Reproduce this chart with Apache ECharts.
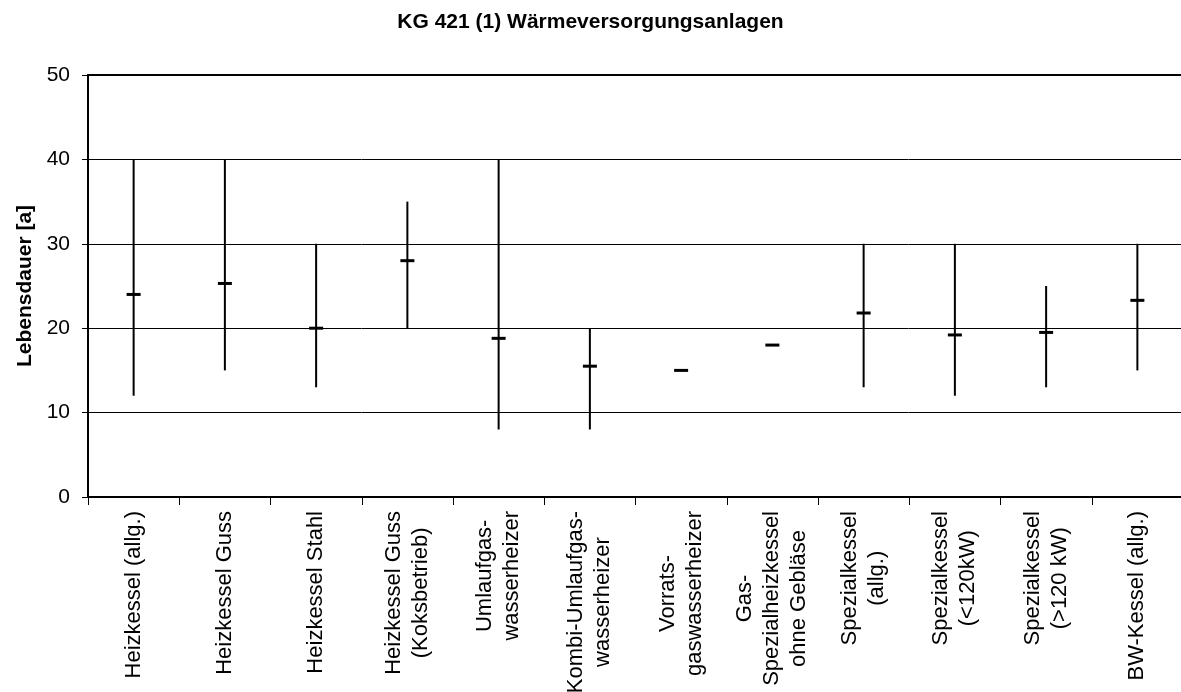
<!DOCTYPE html>
<html>
<head>
<meta charset="utf-8">
<script src="https://cdn.jsdelivr.net/npm/echarts@6/dist/echarts.min.js"></script>
<style>
  html, body { margin: 0; padding: 0; background: #fff; }
  #chart { width: 1181px; height: 692px; }
</style>
</head>
<body>
<div id="chart"></div>
<script>
// categories (x axis)
const categories = [
  'Heizkessel (allg.)',
  'Heizkessel Guss',
  'Heizkessel Stahl',
  'Heizkessel Guss\n(Koksbetrieb)',
  'Umlaufgas-\nwasserheizer',
  'Kombi-Umlaufgas-\nwasserheizer',
  'Vorrats-\ngaswasserheizer',
  'Gas-\nSpezialheizkessel\nohne Gebläse',
  'Spezialkessel\n(allg.)',
  'Spezialkessel\n(<120kW)',
  'Spezialkessel\n(>120 kW)',
  'BW-Kessel (allg.)'
]

// lifetime in years: min, max, mean
const minVals = [12, 15, 13, 20, 8, 8, 15, 18, 13, 12, 13, 15]
const maxVals = [40, 40, 30, 35, 40, 20, 15, 18, 30, 30, 25, 30]
const meanVals = [24, 25.3, 20, 28, 18.8, 15.5, 15, 18, 21.8, 19.2, 19.5, 23.3]

const yTicks = [0, 10, 20, 30, 40, 50]

const chart = echarts.init(document.getElementById('chart'))

const data = categories.map((c, i) => [i, minVals[i], maxVals[i], meanVals[i]])

// label lines centred on each other like the original
const labelFormatter = (val) => val.split('\n').map(s => '{c|' + s + '}').join('\n')

const option = {
  animation: false,
  textStyle: { fontFamily: 'Liberation Sans, Arial, sans-serif' },
  title: {
    text: 'KG 421 (1) Wärmeversorgungsanlagen',
    left: 'center',
    top: 7,
    textStyle: { fontSize: 21, fontWeight: 'bold', color: '#000', fontFamily: 'Liberation Sans, Arial, sans-serif' }
  },
  grid: {
    left: 88,
    top: 75,
    width: 1095,
    height: 422,
    outerBoundsMode: 'none'
  },
  xAxis: [
    {
      type: 'category',
      data: categories,
      boundaryGap: true,
      axisLine: { lineStyle: { color: '#000', width: 2 } },
      axisTick: { show: true, length: 8, interval: 0, lineStyle: { color: '#000', width: 1 } },
      axisLabel: {
        interval: 0,
        rotate: 90,
        margin: 14,
        color: '#000',
        fontSize: 22,
        lineHeight: 27,
        formatter: labelFormatter,
        rich: { c: { align: 'center', fontSize: 22, lineHeight: 27, color: '#000' } }
      },
      splitLine: { show: false }
    },
    {
      type: 'category',
      position: 'top',
      data: categories,
      axisLine: { lineStyle: { color: '#000', width: 2 } },
      axisTick: { show: false },
      axisLabel: { show: false },
      splitLine: { show: false }
    }
  ],
  yAxis: {
    type: 'value',
    min: yTicks[0],
    max: yTicks[yTicks.length - 1],
    interval: 10,
    name: 'Lebensdauer [a]',
    nameLocation: 'middle',
    nameGap: 52,
    nameTextStyle: { fontSize: 21, fontWeight: 'bold', color: '#000' },
    axisLine: { show: true, lineStyle: { color: '#000', width: 2 } },
    axisTick: { show: true, length: 6, lineStyle: { color: '#000', width: 1 } },
    axisLabel: { color: '#000', fontSize: 21, margin: 18 },
    splitLine: { show: true, lineStyle: { color: '#000', width: 1 } }
  },
  series: [
    {
      type: 'custom',
      xAxisIndex: 0,
      data: data,
      encode: { x: 0, y: [1, 2, 3] },
      renderItem: function (params, api) {
        const idx = api.value(0)
        const lo = api.coord([idx, api.value(1)])
        const hi = api.coord([idx, api.value(2)])
        const m = api.coord([idx, api.value(3)])
        const children = []
        if (Math.abs(hi[1] - lo[1]) > 0.5) {
          children.push({
            type: 'line',
            shape: { x1: lo[0], y1: lo[1], x2: hi[0], y2: hi[1] },
            style: { stroke: '#000', lineWidth: 2 }
          })
        }
        children.push({
          type: 'line',
          shape: { x1: m[0] - 7, y1: m[1], x2: m[0] + 7, y2: m[1] },
          style: { stroke: '#000', lineWidth: 3 }
        })
        return { type: 'group', children: children }
      }
    }
  ]
}

chart.setOption(option)
</script>
</body>
</html>
